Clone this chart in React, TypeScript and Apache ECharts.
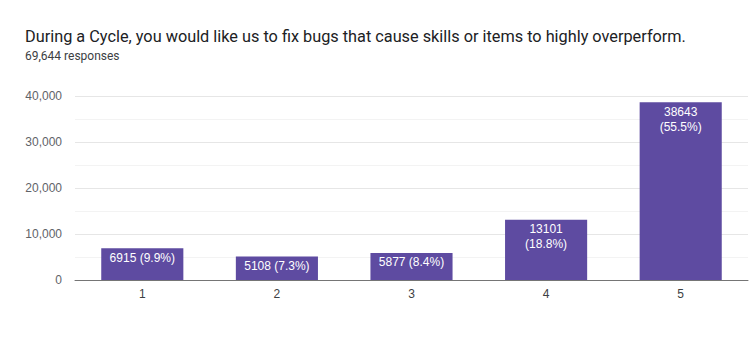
import React, { useEffect, useRef } from "react";
import * as echarts from "echarts";

const categories = ["1", "2", "3", "4", "5"];
const counts = [6915, 5108, 5877, 13101, 38643];
const percents = ["9.9%", "7.3%", "8.4%", "18.8%", "55.5%"];
const twoLine = [false, false, false, true, true];
const yTicks = [0, 10000, 20000, 30000, 40000];

const titleText =
  "During a Cycle, you would like us to fix bugs that cause skills or items to highly overperform.";
const subtitleText = "69,644 responses";

export default function App() {
  const ref = useRef<HTMLDivElement>(null);
  useEffect(() => {
    if (!ref.current) return;
    const chart = echarts.init(ref.current, undefined, { renderer: "svg" });
    chart.setOption({
      animation: false,
      title: [
        {
          text: titleText,
          left: 20,
          top: 23,
          textStyle: {
            fontFamily: "Roboto",
            fontSize: 16.3,
            fontWeight: "normal",
            color: "#202124",
          },
        },
        {
          text: subtitleText,
          left: 20,
          top: 45,
          textStyle: {
            fontFamily: "Roboto",
            fontSize: 12,
            fontWeight: "normal",
            color: "#3c4043",
          },
        },
      ],
      grid: { left: 75, right: 2, top: 96, bottom: 76 },
      xAxis: {
        type: "category",
        data: categories,
        axisLine: { lineStyle: { color: "#757575", width: 1 } },
        axisTick: { show: false },
        axisLabel: {
          fontFamily: "Arial, Liberation Sans",
          fontSize: 12,
          color: "#3c4043",
          margin: 8,
        },
      },
      yAxis: {
        type: "value",
        min: yTicks[0],
        max: yTicks[yTicks.length - 1],
        interval: 10000,
        axisLine: { show: false },
        axisTick: { show: false },
        axisLabel: {
          fontFamily: "Arial, Liberation Sans",
          fontSize: 12,
          color: "#5f6368",
          margin: 13,
          formatter: (v: number) => v.toLocaleString("en-US"),
        },
        splitLine: { lineStyle: { color: "#e6e6e6" } },
        minorTick: { show: false, splitNumber: 2 },
        minorSplitLine: { show: true, lineStyle: { color: "#f3f3f3" } },
      },
      series: [
        {
          type: "bar",
          data: counts,
          barWidth: "61%",
          itemStyle: { color: "#5e4ba1" },
          label: {
            show: true,
            position: "insideTop",
            distance: 2,
            color: "#ffffff",
            fontFamily: "Arial, Liberation Sans",
            fontSize: 12,
            lineHeight: 15,
            formatter: (p: any) =>
              twoLine[p.dataIndex]
                ? `${counts[p.dataIndex]}\n(${percents[p.dataIndex]})`
                : `${counts[p.dataIndex]} (${percents[p.dataIndex]})`,
          },
        },
      ],
    });
    return () => chart.dispose();
  }, []);
  return <div ref={ref} style={{ width: 750, height: 356, position: "fixed", left: 0, top: 0, background: "#fff" }} />;
}
